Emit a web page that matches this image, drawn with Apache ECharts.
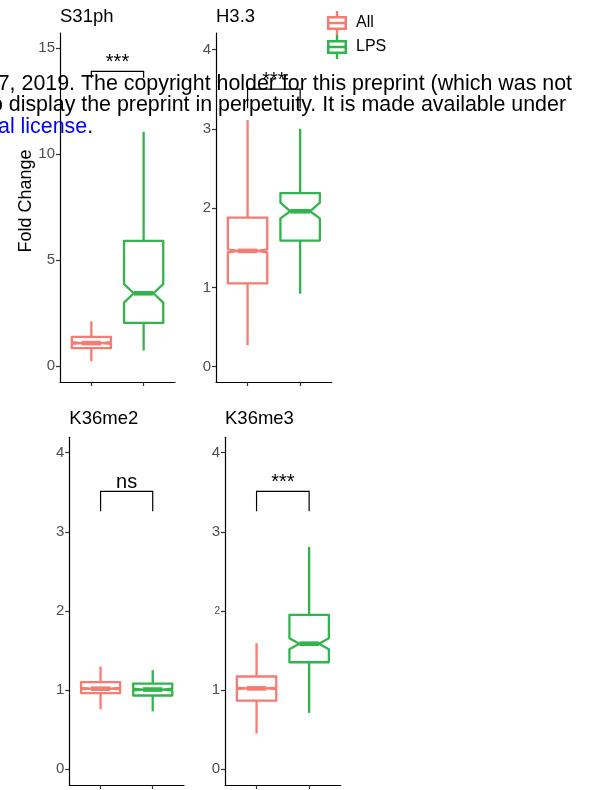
<!DOCTYPE html>
<html>
<head>
<meta charset="utf-8">
<script src="https://cdn.jsdelivr.net/npm/echarts@6/dist/echarts.min.js"></script>
<style>
html,body{margin:0;padding:0;background:#fff;}
#chart{width:592px;height:790px;}
</style>
</head>
<body>
<div id="chart"></div>
<script>
// ---------- data ----------
const groups = ['All', 'LPS'];
const panelTitles = ['S31ph', 'H3.3', 'K36me2', 'K36me3'];
// [min, q1, notchLow, median, notchHigh, q3, max]
const allStats = [
  [0.22, 0.84, 1.04, 1.08, 1.12, 1.37, 2.10],
  [0.27, 1.05, 1.44, 1.46, 1.48, 1.88, 3.11],
  [0.755, 0.96, 1.006, 1.016, 1.026, 1.10, 1.295],
  [0.45, 0.865, 1.01, 1.02, 1.03, 1.17, 1.59]
];
const lpsStats = [
  [0.73, 2.03, 2.99, 3.43, 3.86, 5.90, 11.05],
  [0.92, 1.59, 1.87, 1.96, 2.07, 2.19, 3.00],
  [0.73, 0.93, 0.995, 1.005, 1.015, 1.08, 1.25],
  [0.71, 1.35, 1.515, 1.585, 1.655, 1.95, 2.81]
];
const bracketTop = [13.9, 3.50, 3.51, 3.51];
const bracketDrop = [13.6, 3.26, 3.26, 3.26];
const sigLabels = ['***', '***', 'ns', '***'];
const yTicks = [[0, 5, 10, 15], [0, 1, 2, 3, 4], [0, 1, 2, 3, 4], [0, 1, 2, 3, 4]];
const yMin = [-0.755, -0.193, -0.202, -0.202];
const yMax = [15.708, 4.208, 4.195, 4.195];
const xTicks = [1, 2];

// ---------- style ----------
const FONT = 'Liberation Sans, Arial, Helvetica, sans-serif';
const RED = '#F47C72';
const GREEN = '#31B44B';
const grids = [
  {left: 60, top: 33, width: 115, height: 349},
  {left: 216, top: 33, width: 115.7, height: 349},
  {left: 69.3, top: 437.3, width: 114.7, height: 347.7},
  {left: 225, top: 437.3, width: 115.7, height: 347.7}
];

function boxRender(params, api) {
  const x = api.value(0);
  const v = [1, 2, 3, 4, 5, 6, 7].map(i => api.value(i));
  const Y = k => api.coord([x, k])[1];
  const xc = api.coord([x, v[3]])[0];
  const hw = (api.coord([x + 0.375, v[3]])[0] - api.coord([x - 0.375, v[3]])[0]) / 2;
  const xL = xc - hw, xR = xc + hw, inset = hw * 0.5;
  const [yMn, yQ1, yNL, yMd, yNH, yQ3, yMx] = v.map(Y);
  const color = api.visual('color');
  const ls = {stroke: color, lineWidth: 2.3, fill: null};
  return {
    type: 'group',
    children: [
      {type: 'line', shape: {x1: xc, y1: yQ3, x2: xc, y2: yMx}, style: ls},
      {type: 'line', shape: {x1: xc, y1: yQ1, x2: xc, y2: yMn}, style: ls},
      {type: 'polygon', shape: {points: [[xL, yQ3], [xR, yQ3], [xR, yNH], [xR - inset, yMd], [xR, yNL], [xR, yQ1], [xL, yQ1], [xL, yNL], [xL + inset, yMd], [xL, yNH]]},
        style: {fill: '#fff', stroke: color, lineWidth: 2.3, lineJoin: 'round'}},
      {type: 'line', shape: {x1: xL + inset, y1: yMd, x2: xR - inset, y2: yMd}, style: {stroke: color, lineWidth: 4.6}}
    ]
  };
}

function makeBracketRender(label) {
  return function (params, api) {
    const p1 = api.coord([api.value(0), api.value(2)]);
    const p2 = api.coord([api.value(1), api.value(2)]);
    const yd = api.coord([api.value(0), api.value(3)])[1];
    return {
      type: 'group',
      children: [
        {type: 'polyline', shape: {points: [[p1[0], yd], [p1[0], p1[1]], [p2[0], p2[1]], [p2[0], yd]]},
          style: {stroke: '#000', lineWidth: 1.2, fill: null}},
        {type: 'text', x: (p1[0] + p2[0]) / 2, y: p1[1] + 1,
          style: {text: label, align: 'center', verticalAlign: 'bottom', textAlign: 'center', textVerticalAlign: 'bottom',
            fontSize: 20, fontFamily: FONT, fill: '#000'}}
      ]
    };
  };
}

const xAxes = [], yAxes = [], series = [];
panelTitles.forEach((t, p) => {
  xAxes.push({
    type: 'value', gridIndex: p, min: 0.4, max: 2.6,
    axisLine: {show: true, onZero: false, lineStyle: {color: '#000', width: 1.2}},
    axisTick: {show: true, length: 4, customValues: xTicks, lineStyle: {color: '#333', width: 1.2}},
    axisLabel: {show: false, customValues: xTicks},
    splitLine: {show: false}
  });
  yAxes.push({
    type: 'value', gridIndex: p, min: yMin[p], max: yMax[p],
    axisLine: {show: true, onZero: false, lineStyle: {color: '#000', width: 1.2}},
    axisTick: {show: true, length: 4, customValues: yTicks[p], lineStyle: {color: '#333', width: 1.2}},
    axisLabel: {
      show: true, customValues: yTicks[p], margin: 5, fontSize: 15, fontFamily: FONT, color: '#4D4D4D',
      formatter: p === 3 ? (v => (v === 2 ? '{s|2}' : String(v))) : (v => String(v)),
      rich: {s: {fontSize: 10, fontFamily: FONT, color: '#4D4D4D'}}
    },
    splitLine: {show: false}
  });
  series.push({
    name: groups[0], type: 'custom', xAxisIndex: p, yAxisIndex: p,
    itemStyle: {color: RED}, renderItem: boxRender, clip: false,
    data: [[1].concat(allStats[p])]
  });
  series.push({
    name: groups[1], type: 'custom', xAxisIndex: p, yAxisIndex: p,
    itemStyle: {color: GREEN}, renderItem: boxRender, clip: false,
    data: [[2].concat(lpsStats[p])]
  });
  series.push({
    name: 'sig' + p, type: 'custom', xAxisIndex: p, yAxisIndex: p, clip: false,
    renderItem: makeBracketRender(sigLabels[p]), silent: true,
    data: [[1, 2, bracketTop[p], bracketDrop[p]]]
  });
});

const legendIcon = 'path://M8.8,0L11.2,0L11.2,5L8.8,5Z M0,5L20,5L20,19L0,19Z M2.5,7.5L2.5,10.8L17.5,10.8L17.5,7.5Z M2.5,13.2L2.5,16.5L17.5,16.5L17.5,13.2Z M8.8,19L11.2,19L11.2,24L8.8,24Z';

const titlePos = [[60, 7.5], [216, 7.5], [69.3, 409], [225, 409]];

const option = {
  animation: false,
  backgroundColor: '#fff',
  color: [RED, GREEN],
  grid: grids,
  xAxis: xAxes,
  yAxis: yAxes,
  title: panelTitles.map((t, i) => ({
    text: t, left: titlePos[i][0], top: titlePos[i][1], padding: 0,
    textStyle: {fontSize: 18.5, fontWeight: 'normal', fontFamily: FONT, color: '#000'}
  })),
  legend: {
    data: [{name: 'All', icon: legendIcon}, {name: 'LPS', icon: legendIcon}],
    orient: 'vertical', left: 327, top: 11, itemWidth: 20, itemHeight: 24, itemGap: 0,
    padding: 0, selectedMode: false,
    textStyle: {fontSize: 16, fontFamily: FONT, color: '#000', padding: [0, 0, 0, 4]}
  },
  graphic: [
    {type: 'text', x: 26, y: 201, rotation: Math.PI / 2,
      style: {text: 'Fold Change', align: 'center', verticalAlign: 'middle', fontSize: 18, fontFamily: FONT, fill: '#000'}},
    {type: 'text', x: 572, y: 84.5, z: 100,
      style: {text: '7, 2019. The copyright holder for this preprint (which was not', align: 'right', verticalAlign: 'middle', fontSize: 21.4, fontFamily: FONT, fill: '#000'}},
    {type: 'text', x: 566, y: 105.5, z: 100,
      style: {text: 'o display the preprint in perpetuity. It is made available under', align: 'right', verticalAlign: 'middle', fontSize: 21.4, fontFamily: FONT, fill: '#000'}},
    {type: 'text', x: -2, y: 127.5, z: 100,
      style: {text: '{b|al license}{k|.}', align: 'left', verticalAlign: 'middle', fontSize: 21.4, fontFamily: FONT, fill: '#000',
        rich: {b: {fontSize: 21.4, fontFamily: FONT, fill: '#0000FF', color: '#0000FF'}, k: {fontSize: 21.4, fontFamily: FONT, fill: '#000', color: '#000'}}}}
  ],
  series: series
};

const chart = echarts.init(document.getElementById('chart'), null, {renderer: 'canvas'});
chart.setOption(option);
</script>
</body>
</html>
